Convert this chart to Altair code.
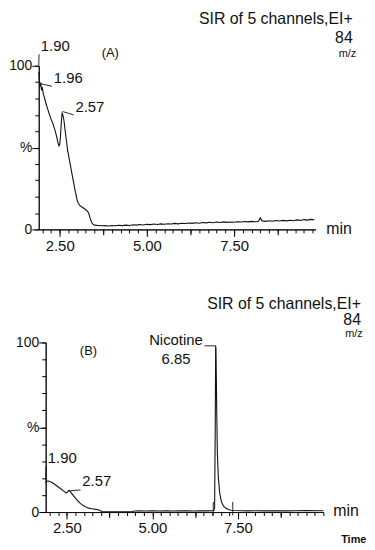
import altair as alt
import pandas as pd

# ---------------- data ----------------
# Panel (A): retention time (min) and relative intensity (%)
A_TIME = [1.90, 1.92, 1.94, 1.96, 1.98, 2.00, 2.03, 2.07, 2.12, 2.18, 2.24, 2.30, 2.36, 2.41,
          2.45, 2.48, 2.50, 2.52, 2.54, 2.56, 2.57, 2.59, 2.62, 2.67, 2.73, 2.80, 2.87, 2.94,
          3.01, 3.08, 3.15, 3.22, 3.28, 3.33, 3.37, 3.41, 3.45, 3.50, 3.60, 3.70, 3.80, 3.90,
          4.00, 4.10, 4.20, 4.30, 4.40, 4.50, 4.60, 4.70, 4.80, 4.90, 5.00, 5.10, 5.20, 5.30,
          5.40, 5.50, 5.60, 5.70, 5.80, 5.90, 6.00, 6.10, 6.20, 6.30, 6.40, 6.50, 6.60, 6.70,
          6.80, 6.90, 7.00, 7.10, 7.20, 7.30, 7.40, 7.50, 7.60, 7.70, 7.80, 7.90, 8.00, 8.10,
          8.20, 8.25, 8.30, 8.40, 8.50, 8.60, 8.70, 8.80, 8.90, 9.00, 9.10, 9.20, 9.30, 9.40,
          9.50, 9.60, 9.70, 9.80]
A_INT = [96, 91, 88, 89, 85, 87, 83, 80, 76, 72, 68, 65, 61, 57,
         53, 51, 51.5, 56, 63, 69, 71, 70, 67, 58, 48, 40, 32, 24,
         17, 14.5, 13.5, 12.5, 11.5, 10, 7, 4.5, 3.2, 2.6, 2.4, 2.2, 2.3, 2.1,
         2.3, 2.2, 2.5, 2.3, 2.6, 2.4, 2.8, 2.6, 3.0, 2.7, 3.1, 2.9, 3.3, 3.0,
         3.4, 3.2, 3.5, 3.3, 3.7, 3.4, 3.8, 3.6, 3.9, 3.7, 4.1, 3.8, 4.2, 4.0,
         4.4, 4.1, 4.5, 4.2, 4.6, 4.3, 4.5, 4.4, 4.7, 4.5, 4.8, 4.6, 4.9, 4.7,
         5.0, 7.0, 5.2, 4.9, 5.3, 5.0, 5.4, 5.1, 5.5, 5.2, 5.6, 5.3, 5.8, 5.5,
         6.0, 5.7, 6.1, 5.9]

# Panel (B)
B_TIME = [1.88, 1.90, 1.95, 2.00, 2.10, 2.20, 2.30, 2.40, 2.48, 2.52, 2.55, 2.58, 2.62, 2.68,
          2.75, 2.82, 2.90, 2.98, 3.06, 3.14, 3.22, 3.30, 3.38, 3.44, 3.48, 3.52, 3.60, 3.80,
          4.00, 4.20, 4.40, 4.50, 4.60, 4.80, 5.00, 5.20, 5.40, 5.60, 5.80, 6.00, 6.20, 6.40,
          6.60, 6.75, 6.80, 6.82, 6.84, 6.85, 6.86, 6.88, 6.90, 6.93, 6.97, 7.02, 7.08, 7.15,
          7.22, 7.30, 7.40, 7.60, 7.80, 8.00, 8.30, 8.60, 8.90, 9.20, 9.50, 9.80, 10.00]
B_INT = [17, 18, 18.3, 18, 17, 15.5, 14, 12.5, 11.3, 11.8, 12.8, 12.5, 11.5, 10,
         8.2, 6.6, 5, 3.8, 2.9, 2.3, 1.9, 1.7, 1.5, 1.2, 0.7, 0.3, 0.2, 0.2,
         0.2, 0.2, 0.3, 0.6, 0.7, 0.6, 0.7, 0.6, 0.7, 0.6, 0.8, 0.7, 0.6, 0.7,
         0.7, 0.8, 0.9, 3, 55, 98, 96, 62, 35, 20, 11, 6, 3.5, 2.2,
         1.5, 1.1, 0.9, 0.8, 0.7, 0.8, 0.7, 0.8, 0.7, 0.8, 0.9, 0.8, 0.8]

# peak labels: label, anchor (time, %), text position (time, %)
A_PEAK_LABELS = ["1.90", "1.96", "2.57"]
A_PEAK_ANCHOR_T = [1.90, 1.96, 2.59]
A_PEAK_ANCHOR_V = [100, 89, 72]
A_PEAK_TEXT_T = [1.96, 2.33, 2.95]
A_PEAK_TEXT_V = [112, 92.5, 75]

B_PEAK_LABELS = ["1.90", "2.57"]
B_PEAK_ANCHOR_T = [1.88, 2.55]
B_PEAK_ANCHOR_V = [18.5, 12.5]
B_PEAK_TEXT_T = [1.94, 2.95]
B_PEAK_TEXT_V = [32, 18]

HEADER = ["SIR of 5 channels,EI+", "84"]
UNIT = "m/z"
X_MAJOR = [2.5, 5.0, 7.5]
X_MID = [3.75, 6.25, 8.75]
X_MINOR_A = [2.0 + 0.25 * i for i in range(32)]
X_MINOR_B = [2.0 + 0.25 * i for i in range(33)]
Y_MAJOR = [0, 50, 100]
Y_MINOR = [0, 10, 20, 30, 40, 50, 60, 70, 80, 90, 100]

FONT = "Liberation Sans"
INK = "#111111"


def plain_axis(vals, size, orient, offset, domain=True):
    return alt.Axis(values=vals, title=None, grid=False, labels=False, orient=orient,
                    ticks=True, tickSize=size, tickColor="#000000", tickWidth=1,
                    domain=domain, offset=offset)


def x_major_axis(offset):
    return alt.Axis(values=X_MAJOR, title=None, grid=False, labelOverlap=False,
                    orient="bottom", offset=offset, labelFlush=False, format=".2f",
                    ticks=True, tickSize=7, tickColor="#000000", tickWidth=1,
                    labelPadding=2, labelFontSize=15)


def y_major_axis(offset):
    return alt.Axis(values=Y_MAJOR, title=None, grid=False, labelOverlap=False,
                    orient="left", offset=offset,
                    labelExpr="datum.value == 100 ? '100' : datum.value == 50 ? '%' : '0'",
                    ticks=True, tickSize=7, tickColor="#000000", tickWidth=1,
                    labelPadding=0, labelFontSize=14)


def panel(times, ints, xdom, inset, plot_w, plot_h, x_minor,
          pk_lab, pk_at, pk_av, pk_tt, pk_tv, extra_text, extra_rules):
    # the plot area is drawn `inset` px inside the view; axes are offset inward to match
    xs = alt.Scale(domain=xdom, range=[inset, inset + plot_w], nice=False, zero=False)
    ys = alt.Scale(domain=[0, 100], range=[plot_h, 0], nice=False, zero=False)
    xo, yo = -1, -inset

    def X(f, axis=None):
        return alt.X(f, scale=xs, axis=axis)

    def Y(f, axis=None):
        return alt.Y(f, scale=ys, axis=axis)

    df = pd.DataFrame({"t": times, "v": ints})
    line = alt.Chart(df).mark_line(color=INK, strokeWidth=1.1).encode(
        x=X("t:Q", plain_axis(x_minor, 3.5, "bottom", xo)),
        y=Y("v:Q", plain_axis(Y_MINOR, 4, "left", yo)))
    leaders = pd.DataFrame({"t": pk_at, "v": pk_av,
                            "t2": [t - 0.05 for t in pk_tt],
                            "v2": [v - 5 for v in pk_tv]})
    rules_df = pd.concat([leaders, pd.DataFrame(extra_rules)], ignore_index=True)
    rules = alt.Chart(rules_df).mark_rule(color=INK, strokeWidth=0.9).encode(
        x=X("t:Q", x_major_axis(xo)), y=Y("v:Q", y_major_axis(yo)),
        x2="t2:Q", y2="v2:Q")
    pk = pd.DataFrame({"t": pk_tt, "v": pk_tv, "label": pk_lab})
    pk_text = alt.Chart(pk).mark_text(align="left", baseline="middle", font=FONT,
                                      fontSize=15, color=INK).encode(
        x=X("t:Q", plain_axis(X_MID, 5.5, "bottom", xo, domain=False)), y=Y("v:Q"),
        text="label:N")
    layers = [line, rules, pk_text]
    for (items, align, size, weight) in extra_text:
        d = pd.DataFrame(items, columns=["t", "v", "label"])
        layers.append(
            alt.Chart(d).mark_text(align=align, baseline="middle", font=FONT,
                                   fontSize=size, fontWeight=weight, color=INK).encode(
                x=X("t:Q"), y=Y("v:Q"), text="label:N"))
    return alt.layer(*layers).resolve_axis(x="independent", y="independent").properties(
        width=inset + plot_w, height=plot_h + 1)


panel_a = panel(
    A_TIME, A_INT, [1.90, 9.83], 7, 279, 165, X_MINOR_A,
    A_PEAK_LABELS, A_PEAK_ANCHOR_T, A_PEAK_ANCHOR_V, A_PEAK_TEXT_T, A_PEAK_TEXT_V,
    [
        ([(10.9, 128.5, HEADER[0]), (10.9, 117, HEADER[1])], "right", 16, "normal"),
        ([(11.0, 107, UNIT)], "right", 11, "normal"),
        ([(3.95, 108, "(A)")], "center", 13, "normal"),
        ([(10.14, 0.5, "min")], "left", 16, "normal"),
    ],
    [],
)

panel_b = panel(
    B_TIME, B_INT, [1.88, 10.0], 14, 280, 171, X_MINOR_B,
    B_PEAK_LABELS, B_PEAK_ANCHOR_T, B_PEAK_ANCHOR_V, B_PEAK_TEXT_T, B_PEAK_TEXT_V,
    [
        ([(11.1, 122.8, HEADER[0]), (11.1, 113.5, HEADER[1])], "right", 16, "normal"),
        ([(11.15, 104.7, UNIT)], "right", 11, "normal"),
        ([(3.13, 94.7, "(B)")], "center", 13, "normal"),
        ([(5.69, 101.5, "Nicotine"), (5.69, 90.5, "6.85")], "center", 15, "normal"),
        ([(10.29, 0.5, "min")], "left", 16, "normal"),
        ([(10.52, -16.5, "Time")], "left", 11, "bold"),
    ],
    [
        {"t": 6.52, "v": 98, "t2": 6.85, "v2": 98},
        {"t": 6.78, "v": -2, "t2": 6.78, "v2": 6},
        {"t": 7.35, "v": -2, "t2": 7.35, "v2": 6},
    ],
)

chart = alt.concat(panel_a, panel_b, columns=1, align="none", spacing=43).properties(
    padding={"left": 0, "top": 0, "right": 0, "bottom": 0},
    background="white",
).configure_view(stroke=None).configure_axis(
    domainColor=INK, labelColor=INK, labelFont=FONT, domainWidth=1,
).configure_text(font=FONT)

chart.save("out.html", embed_options={"renderer": "svg", "actions": False})
